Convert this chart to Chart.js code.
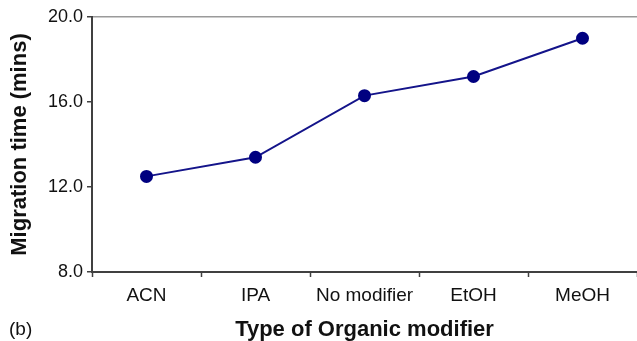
<!DOCTYPE html>
<html>
<head>
<meta charset="utf-8">
<script src="https://cdn.jsdelivr.net/npm/chart.js@4"></script>
<style>
  html, body { margin: 0; padding: 0; background: #fff; }
  #wrap { position: relative; width: 637px; height: 341px; }
  #label-b { position: absolute; left: 9px; top: 318px; font: 19px "Liberation Sans", Arial, sans-serif; color: #111; line-height: 22px; }
</style>
</head>
<body>
<div id="wrap">
  <canvas id="c" width="637" height="341"></canvas>
  <div id="label-b">(b)</div>
</div>
<script>
const categories = ["ACN", "IPA", "No modifier", "EtOH", "MeOH"];
const migrationTimes = [12.5, 13.4, 16.3, 17.2, 19.0];
const yTicks = [8.0, 12.0, 16.0, 20.0];

const FONT = '"Liberation Sans", Arial, sans-serif';

new Chart(document.getElementById('c'), {
  type: 'line',
  data: {
    labels: categories,
    datasets: [{
      data: migrationTimes,
      borderColor: '#14148a',
      backgroundColor: '#000080',
      pointBackgroundColor: '#000080',
      pointBorderColor: '#000080',
      borderWidth: 2,
      pointRadius: 5.5,
      pointHoverRadius: 5.5,
      tension: 0,
      fill: false
    }]
  },
  options: {
    responsive: false,
    animation: false,
    events: [],
    layout: { autoPadding: false, padding: { top: 17, right: 0, left: 0, bottom: 0 } },
    plugins: { legend: { display: false }, tooltip: { enabled: false } },
    scales: {
      x: {
        type: 'category',
        offset: true,
        afterFit: s => { s.height = 69; },
        grid: {
          offset: true,
          drawOnChartArea: false,
          tickColor: '#404040',
          tickLength: 5,
          tickWidth: 1.5
        },
        border: { color: '#404040', width: 2 },
        ticks: { color: '#111', font: { family: FONT, size: 19 }, padding: 7, maxRotation: 0, autoSkip: false },
        title: {
          display: true,
          text: 'Type of Organic modifier',
          color: '#111',
          font: { family: FONT, size: 22, weight: 'bold', lineHeight: 1.0 },
          padding: { top: 0, bottom: 0 }
        }
      },
      y: {
        min: 8,
        max: 20,
        afterFit: s => { s.width = 92; },
        afterBuildTicks: s => { s.ticks = yTicks.map(v => ({ value: v })); },
        grid: {
          color: ctx => (ctx.tick && ctx.tick.value === 20) ? '#9a9a9a' : 'rgba(0,0,0,0)',
          lineWidth: 1.5,
          tickColor: '#404040',
          tickLength: 5,
          tickWidth: 1.5
        },
        border: { color: '#404040', width: 2 },
        ticks: {
          color: '#111',
          font: { family: FONT, size: 18 },
          padding: 4,
          callback: v => Number(v).toFixed(1)
        },
        title: {
          display: true,
          text: 'Migration time (mins)',
          color: '#111',
          font: { family: FONT, size: 22, weight: 'bold', lineHeight: 1.2 },
          padding: { top: 7, bottom: 0 }
        }
      }
    }
  }
});
</script>
</body>
</html>
